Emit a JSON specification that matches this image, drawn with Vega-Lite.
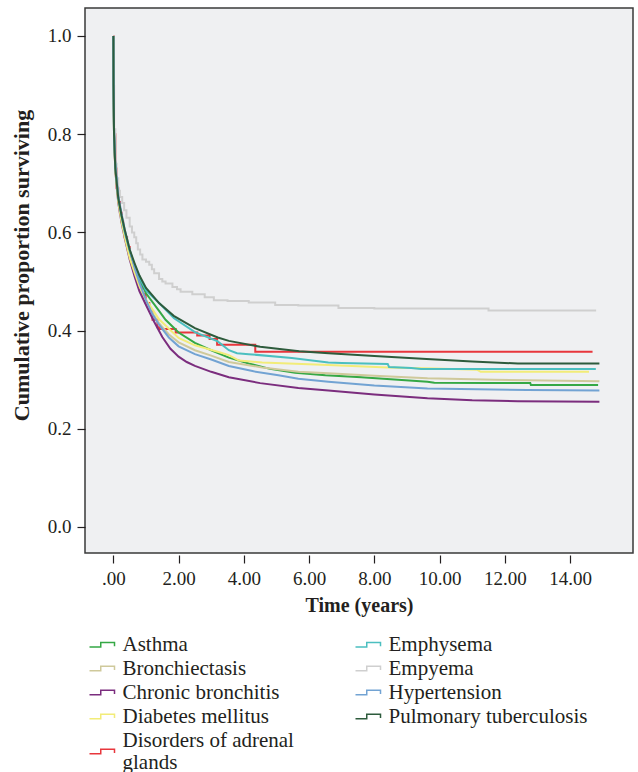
{
  "$schema": "https://vega.github.io/schema/vega-lite/v6.json",
  "width": 548,
  "height": 545,
  "autosize": {"type": "none"},
  "padding": {"left": 85, "top": 8, "right": 5, "bottom": 219},
  "background": "white",
  "config": {
    "view": {"fill": "#eff0f2", "stroke": "#3a3a3a", "strokeWidth": 1.5},
    "font": "Liberation Serif",
    "axis": {
      "labelFont": "Liberation Serif", "labelFontSize": 19, "labelColor": "#231f20",
      "titleFont": "Liberation Serif", "titleFontSize": 20, "titleFontWeight": "bold", "titleColor": "#231f20",
      "tickColor": "#231f20", "tickSize": 8, "tickWidth": 1.2, "domain": false, "grid": false
    }
  },
  "data": {"values": [
    {"s":"Asthma","t":0,"p":1},{"s":"Asthma","t":0.005,"p":0.9},{"s":"Asthma","t":0.02,"p":0.8},{"s":"Asthma","t":0.06,"p":0.73},{"s":"Asthma","t":0.15,"p":0.668},{"s":"Asthma","t":0.25,"p":0.63},{"s":"Asthma","t":0.35,"p":0.598},{"s":"Asthma","t":0.5,"p":0.558},{"s":"Asthma","t":0.65,"p":0.53},{"s":"Asthma","t":0.8,"p":0.505},{"s":"Asthma","t":1.0,"p":0.476},{"s":"Asthma","t":1.4,"p":0.44},{"s":"Asthma","t":1.6,"p":0.422},{"s":"Asthma","t":2.0,"p":0.396},{"s":"Asthma","t":2.5,"p":0.375},{"s":"Asthma","t":3.0,"p":0.36},{"s":"Asthma","t":3.54,"p":0.345},{"s":"Asthma","t":4.15,"p":0.333},{"s":"Asthma","t":4.8,"p":0.322},{"s":"Asthma","t":5.57,"p":0.314},{"s":"Asthma","t":6.5,"p":0.309},{"s":"Asthma","t":7.6,"p":0.305},{"s":"Asthma","t":9.63,"p":0.296},{"s":"Asthma","t":9.84,"p":0.294},{"s":"Asthma","t":11.46,"p":0.293},{"s":"Asthma","t":12.78,"p":0.293},{"s":"Asthma","t":12.8,"p":0.289},{"s":"Asthma","t":14.86,"p":0.289},

    {"s":"Bronchiectasis","t":0,"p":1},{"s":"Bronchiectasis","t":0.005,"p":0.9},{"s":"Bronchiectasis","t":0.02,"p":0.8},{"s":"Bronchiectasis","t":0.06,"p":0.725},{"s":"Bronchiectasis","t":0.15,"p":0.665},{"s":"Bronchiectasis","t":0.25,"p":0.625},{"s":"Bronchiectasis","t":0.35,"p":0.592},{"s":"Bronchiectasis","t":0.5,"p":0.55},{"s":"Bronchiectasis","t":0.65,"p":0.515},{"s":"Bronchiectasis","t":0.8,"p":0.488},{"s":"Bronchiectasis","t":1.0,"p":0.456},{"s":"Bronchiectasis","t":1.4,"p":0.415},{"s":"Bronchiectasis","t":1.7,"p":0.392},{"s":"Bronchiectasis","t":2.0,"p":0.376},{"s":"Bronchiectasis","t":2.5,"p":0.36},{"s":"Bronchiectasis","t":3.0,"p":0.349},{"s":"Bronchiectasis","t":3.54,"p":0.336},{"s":"Bronchiectasis","t":4.56,"p":0.325},{"s":"Bronchiectasis","t":5.67,"p":0.316},{"s":"Bronchiectasis","t":6.59,"p":0.313},{"s":"Bronchiectasis","t":8.0,"p":0.308},{"s":"Bronchiectasis","t":9.63,"p":0.303},{"s":"Bronchiectasis","t":11.67,"p":0.3},{"s":"Bronchiectasis","t":14.9,"p":0.297},

    {"s":"Chronic bronchitis","t":0,"p":1},{"s":"Chronic bronchitis","t":0.005,"p":0.9},{"s":"Chronic bronchitis","t":0.02,"p":0.8},{"s":"Chronic bronchitis","t":0.06,"p":0.725},{"s":"Chronic bronchitis","t":0.15,"p":0.66},{"s":"Chronic bronchitis","t":0.25,"p":0.62},{"s":"Chronic bronchitis","t":0.35,"p":0.588},{"s":"Chronic bronchitis","t":0.5,"p":0.545},{"s":"Chronic bronchitis","t":0.65,"p":0.51},{"s":"Chronic bronchitis","t":0.8,"p":0.48},{"s":"Chronic bronchitis","t":1.0,"p":0.452},{"s":"Chronic bronchitis","t":1.25,"p":0.418},{"s":"Chronic bronchitis","t":1.5,"p":0.387},{"s":"Chronic bronchitis","t":1.75,"p":0.363},{"s":"Chronic bronchitis","t":2.0,"p":0.347},{"s":"Chronic bronchitis","t":2.25,"p":0.336},{"s":"Chronic bronchitis","t":2.5,"p":0.328},{"s":"Chronic bronchitis","t":3.0,"p":0.316},{"s":"Chronic bronchitis","t":3.54,"p":0.305},{"s":"Chronic bronchitis","t":4.5,"p":0.293},{"s":"Chronic bronchitis","t":5.67,"p":0.283},{"s":"Chronic bronchitis","t":6.59,"p":0.278},{"s":"Chronic bronchitis","t":8.0,"p":0.27},{"s":"Chronic bronchitis","t":9.63,"p":0.262},{"s":"Chronic bronchitis","t":11.0,"p":0.258},{"s":"Chronic bronchitis","t":12.4,"p":0.256},{"s":"Chronic bronchitis","t":14.9,"p":0.255},

    {"s":"Diabetes mellitus","t":0,"p":1},{"s":"Diabetes mellitus","t":0.005,"p":0.9},{"s":"Diabetes mellitus","t":0.02,"p":0.8},{"s":"Diabetes mellitus","t":0.06,"p":0.725},{"s":"Diabetes mellitus","t":0.15,"p":0.662},{"s":"Diabetes mellitus","t":0.25,"p":0.622},{"s":"Diabetes mellitus","t":0.35,"p":0.59},{"s":"Diabetes mellitus","t":0.5,"p":0.548},{"s":"Diabetes mellitus","t":0.65,"p":0.518},{"s":"Diabetes mellitus","t":0.8,"p":0.49},{"s":"Diabetes mellitus","t":1.0,"p":0.463},{"s":"Diabetes mellitus","t":1.4,"p":0.423},{"s":"Diabetes mellitus","t":2.0,"p":0.385},{"s":"Diabetes mellitus","t":2.5,"p":0.37},{"s":"Diabetes mellitus","t":3.2,"p":0.357},{"s":"Diabetes mellitus","t":3.54,"p":0.35},{"s":"Diabetes mellitus","t":3.85,"p":0.339},{"s":"Diabetes mellitus","t":4.56,"p":0.335},{"s":"Diabetes mellitus","t":6.59,"p":0.33},{"s":"Diabetes mellitus","t":8.41,"p":0.325},{"s":"Diabetes mellitus","t":9.84,"p":0.323},{"s":"Diabetes mellitus","t":11.16,"p":0.32},{"s":"Diabetes mellitus","t":11.26,"p":0.316},{"s":"Diabetes mellitus","t":14.58,"p":0.316},

    {"s":"Disorders of adrenal glands","t":0,"p":1},{"s":"Disorders of adrenal glands","t":0.005,"p":0.9},{"s":"Disorders of adrenal glands","t":0.02,"p":0.8},{"s":"Disorders of adrenal glands","t":0.06,"p":0.73},{"s":"Disorders of adrenal glands","t":0.1,"p":0.69},{"s":"Disorders of adrenal glands","t":0.15,"p":0.662},{"s":"Disorders of adrenal glands","t":0.2,"p":0.64},{"s":"Disorders of adrenal glands","t":0.25,"p":0.622},{"s":"Disorders of adrenal glands","t":0.3,"p":0.605},{"s":"Disorders of adrenal glands","t":0.35,"p":0.59},{"s":"Disorders of adrenal glands","t":0.42,"p":0.57},{"s":"Disorders of adrenal glands","t":0.5,"p":0.55},{"s":"Disorders of adrenal glands","t":0.57,"p":0.535},{"s":"Disorders of adrenal glands","t":0.65,"p":0.52},{"s":"Disorders of adrenal glands","t":0.72,"p":0.505},{"s":"Disorders of adrenal glands","t":0.79,"p":0.495},{"s":"Disorders of adrenal glands","t":0.88,"p":0.475},{"s":"Disorders of adrenal glands","t":0.99,"p":0.456},{"s":"Disorders of adrenal glands","t":1.1,"p":0.44},{"s":"Disorders of adrenal glands","t":1.2,"p":0.422},{"s":"Disorders of adrenal glands","t":1.35,"p":0.407},{"s":"Disorders of adrenal glands","t":1.4,"p":0.403},{"s":"Disorders of adrenal glands","t":1.91,"p":0.396},{"s":"Disorders of adrenal glands","t":2.57,"p":0.39},{"s":"Disorders of adrenal glands","t":2.95,"p":0.383},{"s":"Disorders of adrenal glands","t":3.18,"p":0.371},{"s":"Disorders of adrenal glands","t":4.35,"p":0.357},{"s":"Disorders of adrenal glands","t":14.69,"p":0.357},

    {"s":"Emphysema","t":0,"p":1},{"s":"Emphysema","t":0.005,"p":0.9},{"s":"Emphysema","t":0.02,"p":0.8},{"s":"Emphysema","t":0.06,"p":0.73},{"s":"Emphysema","t":0.15,"p":0.67},{"s":"Emphysema","t":0.25,"p":0.632},{"s":"Emphysema","t":0.35,"p":0.6},{"s":"Emphysema","t":0.5,"p":0.562},{"s":"Emphysema","t":0.65,"p":0.533},{"s":"Emphysema","t":0.8,"p":0.508},{"s":"Emphysema","t":1.0,"p":0.482},{"s":"Emphysema","t":1.4,"p":0.456},{"s":"Emphysema","t":1.86,"p":0.425},{"s":"Emphysema","t":2.5,"p":0.397},{"s":"Emphysema","t":3.2,"p":0.378},{"s":"Emphysema","t":3.54,"p":0.36},{"s":"Emphysema","t":3.79,"p":0.354},{"s":"Emphysema","t":4.15,"p":0.352},{"s":"Emphysema","t":5.47,"p":0.344},{"s":"Emphysema","t":6.59,"p":0.335},{"s":"Emphysema","t":7.0,"p":0.334},{"s":"Emphysema","t":8.41,"p":0.332},{"s":"Emphysema","t":8.45,"p":0.326},{"s":"Emphysema","t":9.13,"p":0.324},{"s":"Emphysema","t":9.43,"p":0.322},{"s":"Emphysema","t":14.79,"p":0.322},

    {"s":"Empyema","t":0,"p":1},{"s":"Empyema","t":0.005,"p":0.9},{"s":"Empyema","t":0.02,"p":0.81},{"s":"Empyema","t":0.06,"p":0.74},{"s":"Empyema","t":0.1,"p":0.71},{"s":"Empyema","t":0.15,"p":0.685},{"s":"Empyema","t":0.2,"p":0.672},{"s":"Empyema","t":0.27,"p":0.66},{"s":"Empyema","t":0.33,"p":0.645},{"s":"Empyema","t":0.4,"p":0.63},{"s":"Empyema","t":0.5,"p":0.612},{"s":"Empyema","t":0.57,"p":0.6},{"s":"Empyema","t":0.64,"p":0.59},{"s":"Empyema","t":0.7,"p":0.578},{"s":"Empyema","t":0.75,"p":0.565},{"s":"Empyema","t":0.82,"p":0.555},{"s":"Empyema","t":0.89,"p":0.545},{"s":"Empyema","t":1.0,"p":0.54},{"s":"Empyema","t":1.1,"p":0.534},{"s":"Empyema","t":1.18,"p":0.525},{"s":"Empyema","t":1.25,"p":0.517},{"s":"Empyema","t":1.4,"p":0.505},{"s":"Empyema","t":1.5,"p":0.5},{"s":"Empyema","t":1.6,"p":0.496},{"s":"Empyema","t":1.81,"p":0.489},{"s":"Empyema","t":1.95,"p":0.484},{"s":"Empyema","t":2.06,"p":0.479},{"s":"Empyema","t":2.42,"p":0.474},{"s":"Empyema","t":2.8,"p":0.468},{"s":"Empyema","t":3.08,"p":0.462},{"s":"Empyema","t":3.5,"p":0.46},{"s":"Empyema","t":4.15,"p":0.457},{"s":"Empyema","t":4.96,"p":0.452},{"s":"Empyema","t":5.67,"p":0.451},{"s":"Empyema","t":6.9,"p":0.446},{"s":"Empyema","t":8.0,"p":0.445},{"s":"Empyema","t":11.5,"p":0.441},{"s":"Empyema","t":14.8,"p":0.441},

    {"s":"Hypertension","t":0,"p":1},{"s":"Hypertension","t":0.005,"p":0.91},{"s":"Hypertension","t":0.02,"p":0.81},{"s":"Hypertension","t":0.06,"p":0.74},{"s":"Hypertension","t":0.15,"p":0.675},{"s":"Hypertension","t":0.25,"p":0.638},{"s":"Hypertension","t":0.35,"p":0.605},{"s":"Hypertension","t":0.5,"p":0.565},{"s":"Hypertension","t":0.65,"p":0.528},{"s":"Hypertension","t":0.8,"p":0.497},{"s":"Hypertension","t":1.0,"p":0.462},{"s":"Hypertension","t":1.2,"p":0.433},{"s":"Hypertension","t":1.4,"p":0.412},{"s":"Hypertension","t":1.7,"p":0.386},{"s":"Hypertension","t":2.0,"p":0.368},{"s":"Hypertension","t":2.5,"p":0.352},{"s":"Hypertension","t":3.0,"p":0.341},{"s":"Hypertension","t":3.54,"p":0.328},{"s":"Hypertension","t":4.3,"p":0.317},{"s":"Hypertension","t":5.06,"p":0.309},{"s":"Hypertension","t":5.67,"p":0.302},{"s":"Hypertension","t":6.59,"p":0.296},{"s":"Hypertension","t":8.0,"p":0.288},{"s":"Hypertension","t":9.63,"p":0.282},{"s":"Hypertension","t":12.68,"p":0.279},{"s":"Hypertension","t":14.9,"p":0.278},

    {"s":"Pulmonary tuberculosis","t":0,"p":1},{"s":"Pulmonary tuberculosis","t":0.005,"p":0.9},{"s":"Pulmonary tuberculosis","t":0.02,"p":0.8},{"s":"Pulmonary tuberculosis","t":0.06,"p":0.73},{"s":"Pulmonary tuberculosis","t":0.15,"p":0.67},{"s":"Pulmonary tuberculosis","t":0.25,"p":0.635},{"s":"Pulmonary tuberculosis","t":0.35,"p":0.605},{"s":"Pulmonary tuberculosis","t":0.5,"p":0.565},{"s":"Pulmonary tuberculosis","t":0.65,"p":0.537},{"s":"Pulmonary tuberculosis","t":0.8,"p":0.512},{"s":"Pulmonary tuberculosis","t":1.0,"p":0.487},{"s":"Pulmonary tuberculosis","t":1.4,"p":0.456},{"s":"Pulmonary tuberculosis","t":1.85,"p":0.43},{"s":"Pulmonary tuberculosis","t":2.5,"p":0.405},{"s":"Pulmonary tuberculosis","t":3.2,"p":0.386},{"s":"Pulmonary tuberculosis","t":3.54,"p":0.379},{"s":"Pulmonary tuberculosis","t":4.5,"p":0.367},{"s":"Pulmonary tuberculosis","t":5.7,"p":0.358},{"s":"Pulmonary tuberculosis","t":6.6,"p":0.354},{"s":"Pulmonary tuberculosis","t":8.0,"p":0.348},{"s":"Pulmonary tuberculosis","t":9.6,"p":0.342},{"s":"Pulmonary tuberculosis","t":11.0,"p":0.337},{"s":"Pulmonary tuberculosis","t":12.4,"p":0.333},{"s":"Pulmonary tuberculosis","t":14.9,"p":0.333}
  ]},
  "encoding": {
    "x": {
      "field": "t", "type": "quantitative",
      "scale": {"domain": [-0.87, 15.93], "nice": false, "zero": false},
      "axis": {
        "title": "Time (years)", "values": [0, 2, 4, 6, 8, 10, 12, 14],
        "labelExpr": "datum.value == 0 ? '.00' : format(datum.value, '.2f')",
        "offset": 2, "labelPadding": 6, "titlePadding": 7
      }
    },
    "y": {
      "field": "p", "type": "quantitative",
      "scale": {"domain": [-0.053, 1.057], "nice": false, "zero": false},
      "axis": {
        "title": "Cumulative proportion surviving", "values": [0, 0.2, 0.4, 0.6, 0.8, 1.0],
        "format": ".1f", "labelPadding": 6, "titleFontSize": 22, "titleX": -52, "titleY": 257
      }
    },
    "color": {
      "field": "s", "type": "nominal",
      "scale": {
        "domain": ["Asthma", "Bronchiectasis", "Chronic bronchitis", "Diabetes mellitus", "Disorders of adrenal glands", "Emphysema", "Empyema", "Hypertension", "Pulmonary tuberculosis"],
        "range": ["#35a845", "#cfc99b", "#7b2d7e", "#f2ec78", "#e8363c", "#4bbfc0", "#cfcfcf", "#72a3d3", "#2d5b3c"]
      },
      "legend": {
        "title": null, "orient": "none", "legendX": 6.5, "legendY": 626, "columns": 2,
        "columnPadding": 58, "rowPadding": 2, "padding": 0,
        "symbolType": "M-2.5,0.43H-0.25V-0.43H2.5V0.3", "symbolSize": 100, "symbolStrokeWidth": 1.5,
        "symbolFillColor": "transparent",
        "labelFont": "Liberation Serif", "labelFontSize": 21, "labelColor": "#231f20", "labelOffset": 10, "labelLimit": 400,
        "labelExpr": "datum.label == 'Disorders of adrenal glands' ? ['Disorders of adrenal', 'glands'] : datum.label",
        "encode": {"labels": {"update": {
          "dy": {"signal": "datum.value == 'Disorders of adrenal glands' ? -11 : 0"},
          "lineHeight": {"value": 22}
        }}}
      }
    }
  },
  "layer": [
    {
      "transform": [{"filter": "datum.s == 'Empyema' || datum.s == 'Disorders of adrenal glands'"}],
      "mark": {"type": "line", "strokeWidth": 2, "interpolate": "step-after"}
    },
    {
      "transform": [{"filter": "datum.s != 'Empyema' && datum.s != 'Disorders of adrenal glands'"}],
      "mark": {"type": "line", "strokeWidth": 2, "interpolate": "linear"}
    }
  ]
}
